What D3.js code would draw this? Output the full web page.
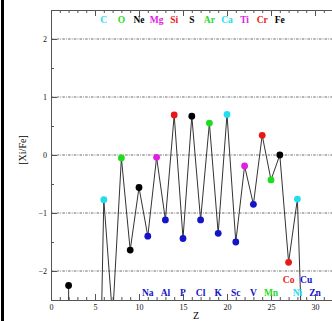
<!DOCTYPE html>
<html lang="en">
<head>
<meta charset="UTF-8" />
<title>[Xi/Fe] vs Z</title>
<style>
  html, body { margin:0; padding:0; background:#fff; }
  svg { display:block; }
  .ax path, .ax line { stroke:#555; stroke-width:1; }
  .ax text { font-family:"Liberation Serif", serif; font-size:8px; fill:#111; }
  .lbl { font-family:"Liberation Serif", serif; font-size:9.5px; font-weight:bold; text-anchor:middle; }
</style>
</head>
<body>
<svg id="chart" width="332" height="321"></svg>
<script src="https://d3js.org/d3.v7.min.js"></script>
<script>
// atomic number, symbol, [Xi/Fe] (off-chart values are rough guesses from the line slopes)
const zs      = [2, 3, 4, 5, 6, 7, 8, 9, 10, 11, 12, 13, 14, 15, 16, 17, 18, 19, 20, 21, 22, 23, 24, 25, 26, 27, 28, 29, 30];
const symbols = ["He","Li","Be","B","C","N","O","F","Ne","Na","Mg","Al","Si","P","S","Cl","Ar","K","Ca","Sc","Ti","V","Cr","Mn","Fe","Co","Ni","Cu","Zn"];
const values  = [-2.25, -60, -60, -8.4, -0.77, -2.8, -0.05, -1.64, -0.56, -1.40, -0.04, -1.12, 0.69, -1.44, 0.67, -1.12, 0.55, -1.35, 0.70, -1.50, -0.19, -0.85, 0.34, -0.43, 0.00, -1.85, -0.76, -5.4, -8];

// element labels along the top and bottom of the panel
const topLabels    = ["C","O","Ne","Mg","Si","S","Ar","Ca","Ti","Cr","Fe"];
const bottomLabels = ["Na","Al","P","Cl","K","Sc","V","Mn","Ni","Zn"];
const raisedLabels = ["Co","Cu"];

const xTicks = [0, 5, 10, 15, 20, 25, 30];
const yTicks = [-2, -1, 0, 1, 2];

const colorOf = {
  He:"#000", C:"#22dded", N:"#000", O:"#1fdc1f", F:"#000", Ne:"#000", Na:"#1414c8", Mg:"#e020e0",
  Al:"#1414c8", Si:"#e81818", P:"#1414c8", S:"#000", Cl:"#1414c8", Ar:"#1fdc1f", K:"#1414c8",
  Ca:"#22dded", Sc:"#1414c8", Ti:"#e020e0", V:"#1414c8", Cr:"#e81818", Mn:"#1fdc1f", Fe:"#000",
  Co:"#e81818", Ni:"#22dded", Cu:"#1414c8", Zn:"#1414c8"
};

const data = zs.map((z, i) => ({ z, sym: symbols[i], v: values[i] }));
const bySym = new Map(data.map(d => [d.sym, d]));

const svg = d3.select('#chart');
const L = 51, R = 332.6, T = 10, B = 300;
const x = d3.scaleLinear().domain([0, 32]).range([L, R]);
const y = d3.scaleLinear().domain([-2.5, 2.5]).range([B, T]);

// black strip on the left edge
svg.append('rect').attr('x', 1).attr('y', 0).attr('width', 3).attr('height', 321).attr('fill', '#000');

svg.append('defs').append('clipPath').attr('id', 'clip')
  .append('rect').attr('x', L).attr('y', T).attr('width', R - L).attr('height', B - T);

// dotted grid lines
svg.append('g').selectAll('line').data(yTicks).join('line')
  .attr('x1', L).attr('x2', R).attr('y1', d => y(d)).attr('y2', d => y(d))
  .attr('stroke', '#444').attr('stroke-width', 0.8).attr('stroke-dasharray', '2.5,1.2,0.8,1.2');

// axes: major + minor ticks pointing inward
function xAxis(gen, ty, major) {
  const g = svg.append('g').attr('class', 'ax').attr('transform', `translate(0,${ty})`);
  g.call(gen(x).tickValues(d3.range(0, 33, 1)).tickSize(-3).tickFormat(''));
  const g2 = svg.append('g').attr('class', 'ax').attr('transform', `translate(0,${ty})`);
  g2.call(gen(x).tickValues(xTicks).tickSize(-6).tickPadding(4).tickFormat(major ? d3.format('d') : ''));
  g2.select('.domain').remove();
  return g;
}
xAxis(d3.axisBottom, B, true);
xAxis(d3.axisTop, T, false);

const gl = svg.append('g').attr('class', 'ax').attr('transform', `translate(${L},0)`);
gl.call(d3.axisLeft(y).tickValues(d3.range(-2.5, 2.51, 0.5)).tickSize(-3).tickFormat(''));
const gl2 = svg.append('g').attr('class', 'ax').attr('transform', `translate(${L},0)`);
gl2.call(d3.axisLeft(y).tickValues(yTicks).tickSize(-6).tickPadding(4).tickFormat(d3.format('d')));
gl2.select('.domain').remove();

// connecting line
const plot = svg.append('g').attr('clip-path', 'url(#clip)');
plot.append('path').datum(data)
  .attr('fill', 'none').attr('stroke', '#333').attr('stroke-width', 1)
  .attr('d', d3.line().x(d => x(d.z)).y(d => y(d.v)));

// markers for the points inside the frame
plot.selectAll('circle').data(data.filter(d => d.v > -2.5)).join('circle')
  .attr('cx', d => x(d.z)).attr('cy', d => y(d.v)).attr('r', 3.4)
  .attr('fill', d => colorOf[d.sym]);

// element labels
const labels = svg.append('g');
function addLabels(list, ly) {
  labels.selectAll(null).data(list).join('text')
    .attr('class', 'lbl')
    .attr('x', s => x(bySym.get(s).z)).attr('y', ly)
    .attr('fill', s => colorOf[s])
    .text(s => s);
}
addLabels(topLabels, 23);
addLabels(bottomLabels, 296);
addLabels(raisedLabels, 283);

// axis titles
svg.append('text').attr('x', 196).attr('y', 319).attr('text-anchor', 'middle')
  .attr('font-family', 'Liberation Serif, serif').attr('font-size', 10).text('Z');
svg.append('text').attr('transform', `translate(26,150) rotate(-90)`).attr('text-anchor', 'middle')
  .attr('font-family', 'Liberation Serif, serif').attr('font-size', 10).text('[Xi/Fe]');
</script>
</body>
</html>
